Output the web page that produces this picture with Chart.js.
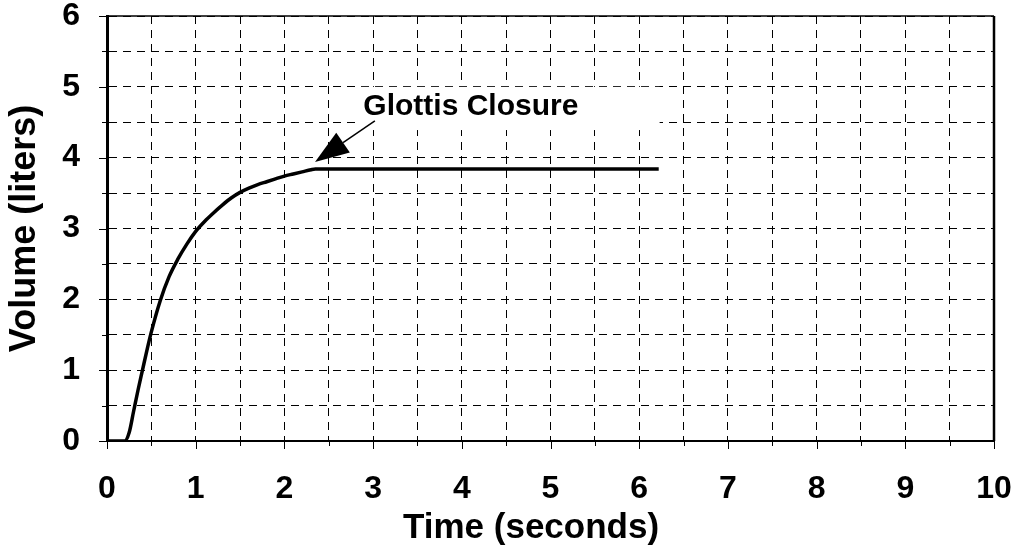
<!DOCTYPE html>
<html>
<head>
<meta charset="utf-8">
<script src="https://cdn.jsdelivr.net/npm/chart.js@4.4.0/dist/chart.umd.min.js"></script>
<style>
  body { margin: 0; background: #fff; }
  .chartBox { width: 1015px; height: 554px; }
</style>
</head>
<body>
<div class="chartBox"><canvas id="myChart"></canvas></div>
<script>
// spirometer trace
const timeSec = [0, 0.2, 0.25, 0.3, 0.35, 0.4, 0.45, 0.5, 0.6, 0.7, 0.8, 0.9, 1.0, 1.1, 1.2, 1.3, 1.4, 1.5, 1.6, 1.7, 1.8, 1.9, 2.0, 2.1, 2.2, 2.3, 2.35, 6.22];
const volumeL = [0, 0, 0.12, 0.42, 0.72, 1.0, 1.28, 1.54, 1.98, 2.32, 2.57, 2.78, 2.96, 3.1, 3.22, 3.33, 3.43, 3.51, 3.57, 3.62, 3.66, 3.7, 3.74, 3.77, 3.8, 3.83, 3.84, 3.84];
const xRange = [0, 10];
const yRange = [0, 6];

// annotation, in data units
const noteText = 'Glottis Closure';
const noteAt = [2.89, 4.6];
const noteBox = [2.85, 6.23, 4.39, 5.0];
const arrowFrom = [3.02, 4.52];
const arrowTo = [2.345, 3.94];

const FONT = '"Liberation Sans", Arial, sans-serif';
const isWhole = v => Math.abs(v - Math.round(v)) < 1e-6;

const extras = {
  id: 'extras',
  beforeDatasetsDraw(chart) {
    const {ctx, scales: {x, y}} = chart;
    const l = x.getPixelForValue(noteBox[0]), r = x.getPixelForValue(noteBox[1]);
    const t = y.getPixelForValue(noteBox[3]), b = y.getPixelForValue(noteBox[2]);
    ctx.save();
    ctx.fillStyle = '#fff';
    ctx.fillRect(l, t, r - l, b - t);
    ctx.restore();
  },
  afterDraw(chart) {
    const {ctx, chartArea: a, scales: {x, y}} = chart;
    ctx.save();
    ctx.strokeStyle = '#000';
    ctx.lineWidth = 1.5;
    ctx.beginPath(); ctx.moveTo(a.left, a.top); ctx.lineTo(a.right, a.top); ctx.stroke();
    ctx.lineWidth = 2.5;
    ctx.beginPath(); ctx.moveTo(a.right, a.top); ctx.lineTo(a.right, a.bottom); ctx.stroke();

    // tick marks: long on whole numbers, short on halves
    ctx.lineWidth = 1;
    x.ticks.forEach(t => {
      const px = Math.round(x.getPixelForValue(t.value)) + 0.5;
      ctx.beginPath(); ctx.moveTo(px, a.bottom); ctx.lineTo(px, a.bottom + (isWhole(t.value) ? 8 : 5)); ctx.stroke();
    });
    y.ticks.forEach(t => {
      const py = Math.round(y.getPixelForValue(t.value)) + 0.5;
      ctx.beginPath(); ctx.moveTo(a.left, py); ctx.lineTo(a.left - (isWhole(t.value) ? 8 : 5), py); ctx.stroke();
    });

    // arrow
    const x0 = x.getPixelForValue(arrowFrom[0]), y0 = y.getPixelForValue(arrowFrom[1]);
    const x1 = x.getPixelForValue(arrowTo[0]), y1 = y.getPixelForValue(arrowTo[1]);
    const ang = Math.atan2(y1 - y0, x1 - x0);
    const headLen = 34, headHalf = 12;
    const bx = x1 - headLen * Math.cos(ang), by = y1 - headLen * Math.sin(ang);
    ctx.lineWidth = 1.5;
    ctx.beginPath(); ctx.moveTo(x0, y0); ctx.lineTo(bx, by); ctx.stroke();
    ctx.fillStyle = '#000';
    ctx.beginPath();
    ctx.moveTo(x1, y1);
    ctx.lineTo(bx + headHalf * Math.sin(ang), by - headHalf * Math.cos(ang));
    ctx.lineTo(bx - headHalf * Math.sin(ang), by + headHalf * Math.cos(ang));
    ctx.closePath();
    ctx.fill();

    ctx.font = 'bold 30px ' + FONT;
    ctx.textBaseline = 'alphabetic';
    ctx.textAlign = 'left';
    ctx.fillText(noteText, x.getPixelForValue(noteAt[0]), y.getPixelForValue(noteAt[1]));
    ctx.restore();
  }
};

const gridOpts = {
  color: '#000',
  lineWidth: 1,
  drawTicks: true,
  tickLength: 8,
  tickColor: 'rgba(0,0,0,0)'
};

// fixed axis boxes so the plot area sits where it does in the picture
const fixX = s => { s.height = 113; s.paddingLeft = 0; s.paddingRight = 0; };
const fixY = s => { s.width = 107; s.paddingTop = 0; s.paddingBottom = 0; };

const myChartRef = document.getElementById('myChart').getContext('2d');
new Chart(myChartRef, {
  type: 'line',
  data: {
    datasets: [{
      label: 'Volume',
      data: timeSec.map((t, i) => ({x: t, y: volumeL[i]})),
      borderColor: '#000',
      borderWidth: 3.5,
      pointRadius: 0,
      fill: false,
      cubicInterpolationMode: 'monotone'
    }]
  },
  options: {
    responsive: true,
    maintainAspectRatio: false,
    animation: false,
    layout: { padding: { top: 16, right: 21, left: 0, bottom: 0 } },
    plugins: { legend: { display: false }, tooltip: { enabled: false } },
    scales: {
      x: {
        type: 'linear',
        min: xRange[0], max: xRange[1],
        afterFit: fixX,
        grid: gridOpts,
        border: { display: true, color: '#000', width: 2, dash: [8, 6] },
        ticks: {
          stepSize: 0.5, autoSkip: false, maxRotation: 0, padding: 23,
          color: '#000',
          font: { family: FONT, size: 32, weight: 'bold', lineHeight: 1.1 },
          callback: v => isWhole(v) ? String(Math.round(v)) : ''
        },
        title: {
          display: true, text: 'Time (seconds)    ', color: '#000',
          font: { family: FONT, size: 35, weight: 'bold', lineHeight: 1.1 },
          padding: { top: 0, bottom: 6 }
        }
      },
      y: {
        type: 'linear',
        min: yRange[0], max: yRange[1],
        afterFit: fixY,
        grid: gridOpts,
        border: { display: true, color: '#000', width: 3, dash: [8, 6] },
        ticks: {
          stepSize: 0.5, autoSkip: false, padding: 19,
          color: '#000',
          font: { family: FONT, size: 32, weight: 'bold', lineHeight: 1.1 },
          callback: v => isWhole(v) ? String(Math.round(v)) : ''
        },
        title: {
          display: true, text: 'Volume (liters)', color: '#000',
          font: { family: FONT, size: 36, weight: 'bold', lineHeight: 1.1 },
          padding: { top: 5, bottom: 0 }
        }
      }
    }
  },
  plugins: [extras]
});
</script>
</body>
</html>
